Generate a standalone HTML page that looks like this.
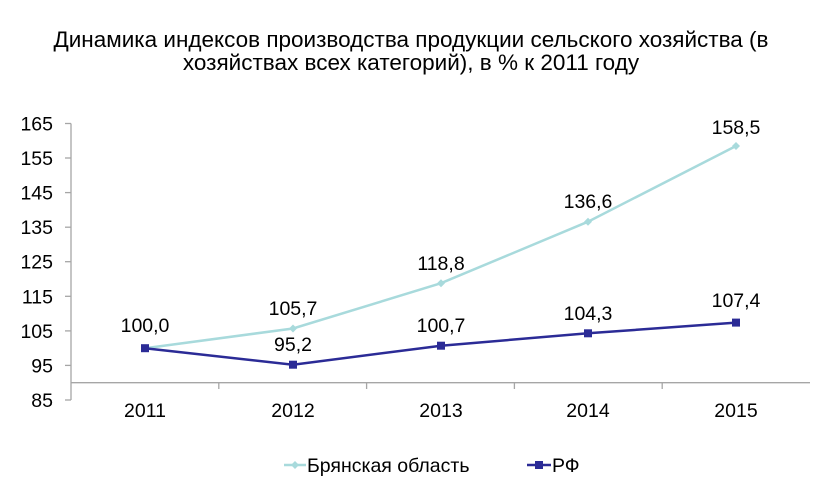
<!DOCTYPE html>
<html><head><meta charset="utf-8"><style>
html,body{margin:0;padding:0;background:#fff}
svg{display:block;font-family:"Liberation Sans",Arial,sans-serif}
</style></head><body>
<svg width="820" height="492" viewBox="0 0 820 492" xmlns="http://www.w3.org/2000/svg">
<rect width="820" height="492" fill="#fff"/>
<text x="411" y="47" font-size="22.5" text-anchor="middle" fill="#000">Динамика индексов производства продукции сельского хозяйства (в</text>
<text x="411" y="70" font-size="22.5" text-anchor="middle" fill="#000">хозяйствах всех категорий), в % к 2011 году</text>
<g stroke="#a6a6a6" stroke-width="1.3" fill="none">
<line x1="71" y1="123.5" x2="71" y2="400"/>
<line x1="71" y1="382.7" x2="810" y2="382.7"/>
<line x1="65" y1="123.5" x2="71" y2="123.5"/>
<line x1="65" y1="158" x2="71" y2="158"/>
<line x1="65" y1="192.6" x2="71" y2="192.6"/>
<line x1="65" y1="227.2" x2="71" y2="227.2"/>
<line x1="65" y1="261.7" x2="71" y2="261.7"/>
<line x1="65" y1="296.3" x2="71" y2="296.3"/>
<line x1="65" y1="330.9" x2="71" y2="330.9"/>
<line x1="65" y1="365.4" x2="71" y2="365.4"/>
<line x1="65" y1="400" x2="71" y2="400"/>
<line x1="218.8" y1="382.7" x2="218.8" y2="389"/>
<line x1="366.6" y1="382.7" x2="366.6" y2="389"/>
<line x1="514.4" y1="382.7" x2="514.4" y2="389"/>
<line x1="662.2" y1="382.7" x2="662.2" y2="389"/>
</g>
<g font-size="19.5" text-anchor="end" fill="#000">
<text x="53" y="130.5">165</text><text x="53" y="165">155</text><text x="53" y="199.6">145</text>
<text x="53" y="234.2">135</text><text x="53" y="268.7">125</text><text x="53" y="303.3">115</text>
<text x="53" y="337.9">105</text><text x="53" y="372.4">95</text><text x="53" y="407">85</text>
</g>
<g font-size="19.5" text-anchor="middle" fill="#000">
<text x="145" y="417">2011</text><text x="293" y="417">2012</text><text x="441" y="417">2013</text>
<text x="588" y="417">2014</text><text x="736" y="417">2015</text>
</g>
<polyline points="145,348.2 293,328.5 441,283.2 588,221.7 736,146" fill="none" stroke="#a8dadc" stroke-width="2.5"/>
<g fill="#a8dadc">
<path d="M293,324.5 l4,4 l-4,4 l-4,-4z"/><path d="M441,279.2 l4,4 l-4,4 l-4,-4z"/>
<path d="M588,217.7 l4,4 l-4,4 l-4,-4z"/><path d="M736,142 l4,4 l-4,4 l-4,-4z"/>
</g>
<polyline points="145,348.2 293,364.7 441,345.7 588,333.3 736,322.6" fill="none" stroke="#2b2b96" stroke-width="2.5"/>
<g fill="#2b2b96">
<rect x="141" y="344.2" width="8" height="8"/><rect x="289" y="360.7" width="8" height="8"/>
<rect x="437" y="341.7" width="8" height="8"/><rect x="584" y="329.3" width="8" height="8"/>
<rect x="732" y="318.6" width="8" height="8"/>
</g>
<g font-size="19.5" text-anchor="middle" fill="#000">
<text x="145" y="332">100,0</text>
<text x="293" y="315">105,7</text>
<text x="441" y="270">118,8</text>
<text x="588" y="208">136,6</text>
<text x="736" y="134">158,5</text>
<text x="293" y="351">95,2</text>
<text x="441" y="332">100,7</text>
<text x="588" y="320">104,3</text>
<text x="736" y="307">107,4</text>
</g>
<line x1="284" y1="465" x2="306" y2="465" stroke="#a8dadc" stroke-width="2.5"/>
<path d="M295,461 l4,4 l-4,4 l-4,-4z" fill="#a8dadc"/>
<text x="307" y="472" font-size="19.5" fill="#000">Брянская область</text>
<line x1="527" y1="465" x2="551" y2="465" stroke="#2b2b96" stroke-width="2.5"/>
<rect x="535" y="461" width="8" height="8" fill="#2b2b96"/>
<text x="552" y="472" font-size="19.5" fill="#000">РФ</text>
</svg>
</body></html>
